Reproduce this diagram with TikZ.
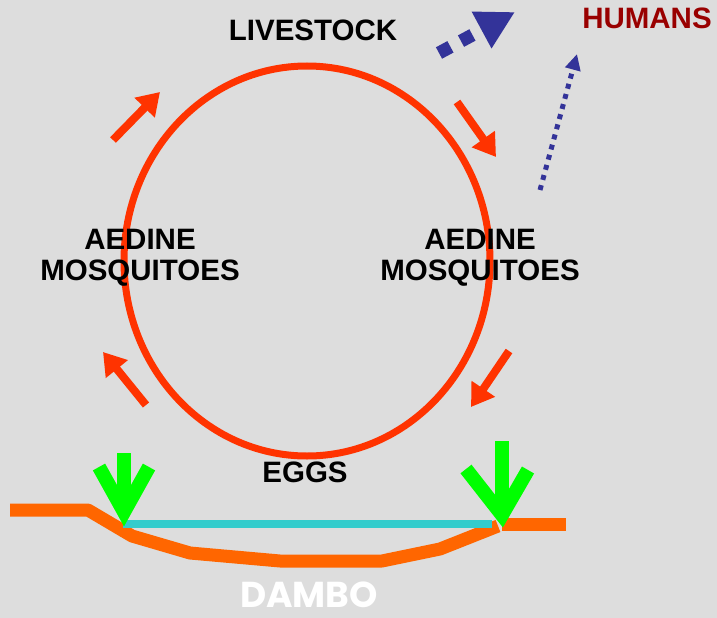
\documentclass[tikz,border=0pt]{standalone}
\usepackage{fontspec}
\setmainfont{Liberation Sans}
\newfontfamily\dambofont{Poppins}
\usepackage{xcolor}
\usetikzlibrary{arrows.meta}
\definecolor{BgGray}{RGB}{221,221,221}
\definecolor{RingRed}{RGB}{255,51,0}
\definecolor{SoilOrange}{RGB}{255,102,0}
\definecolor{PoolCyan}{RGB}{51,204,204}
\definecolor{RainGreen}{RGB}{0,255,0}
\definecolor{SpillBlue}{RGB}{51,51,153}
\definecolor{HumanRed}{RGB}{153,0,0}
\tikzset{
  %%── text ─────────────────────────────────────────────
  cyctxt/.style = {
    inner sep = 0pt, align = center, text = black,
    font = \fontsize{29.5}{31}\selectfont\bfseries
  },
  humtxt/.style = {cyctxt, text = HumanRed},
  dambotxt/.style = {
    inner sep = 0pt, text = white,
    font = \dambofont\fontsize{36}{38}\selectfont\bfseries
  },
  %%── cycle ────────────────────────────────────────────
  ring/.style  = {draw = RingRed, line width = 7pt},
  carr/.style  = {-{Triangle[length=22pt,width=27pt]}, line width = 8pt, color = RingRed},
  %%── spill-over to humans ─────────────────────────────
  sarr/.style  = {-{Triangle[length=38pt,width=39pt]}, line width = 13pt,
                  dash pattern = on 13pt off 12pt, color = SpillBlue},
  parr/.style  = {-{Triangle[length=16pt,width=15pt]}, line width = 5pt,
                  dash pattern = on 5pt off 5.5pt, color = SpillBlue},
  %%── dambo ────────────────────────────────────────────
  soil/.style  = {draw = SoilOrange, line width = 13pt, line join = round},
  pool/.style  = {draw = PoolCyan, line width = 8pt},
  rain/.style  = {draw = RainGreen, line width = 14pt, line join = miter},
}

\begin{document}
\begin{tikzpicture}[x = 1pt, y = -1pt]

  \fill[BgGray] (0,0) rectangle (717,618);
  \useasboundingbox (0,0) rectangle (717,618);

  %% ring
  \draw[ring] (307,261) ellipse [x radius = 183pt, y radius = 195pt];

  %% labels
  \node[cyctxt] (livestock) at (313,30)  {LIVESTOCK};
  \node[cyctxt] (mosqL)     at (140,258) {AEDINE\\MOSQUITOES};
  \node[cyctxt] (mosqR)     at (480,258) {AEDINE\\MOSQUITOES};
  \node[cyctxt] (eggs)      at (305,472) {EGGS};
  \node[humtxt] (humans)    at (647,18)  {HUMANS};
  \node[dambotxt] (dambo)   at (309,595) {DAMBO};

  %% cycle arrows
  \draw[carr] (113,140) -- (160,92);
  \draw[carr] (457,102) -- (496,157);
  \draw[carr] (509,351) -- (471,407);
  \draw[carr] (146,405) -- (103,352);

  %% to humans
  \draw[sarr] (439,53) -- (515,12);
  \draw[parr] (540,190) -- (577,54);

  %% dambo
  \draw[soil] (10,510) -- (88,510) -- (132,536) -- (190,553) -- (280,561)
              -- (382,561) -- (440,549) -- (498,526);
  \draw[soil] (502,524) -- (566,524);
  \draw[pool] (123,524) -- (492,524);

  %% rain
  \draw[rain] (124,453) -- (124,512);
  \draw[rain] (99,467) -- (124,512) -- (149,467);
  \draw[rain] (502,441) -- (502,515);
  \draw[rain] (466,469) -- (502,515) -- (528,470);

\end{tikzpicture}
\end{document}
